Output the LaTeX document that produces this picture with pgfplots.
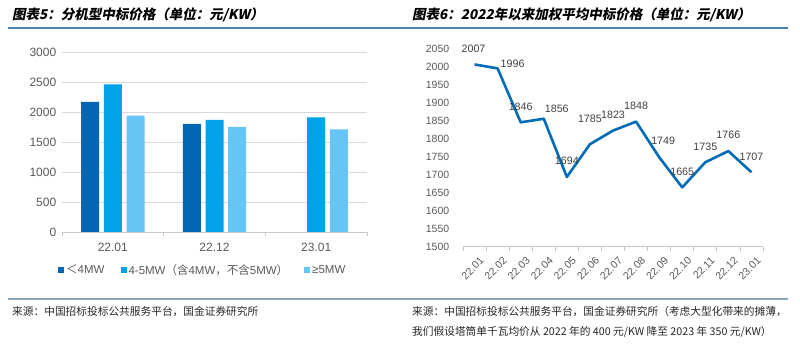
\documentclass[border=0pt]{standalone}
\usepackage{fontspec}
\setmainfont{Liberation Sans}
\newfontfamily\cjk{Noto Sans CJK SC}
\newfontfamily\cjkt{Noto Sans CJK SC}[FakeSlant=0.2]
\usepackage{pgfplots}
\pgfplotsset{compat=1.18}
\usepackage{pgfplotstable}

\definecolor{c1}{RGB}{0,102,179}
\definecolor{c2}{RGB}{0,162,232}
\definecolor{c3}{RGB}{102,197,245}
\definecolor{lc}{RGB}{0,108,182}
\definecolor{tickgray}{RGB}{89,89,89}
\definecolor{labgray}{RGB}{64,64,64}
\definecolor{gridgray}{RGB}{217,217,217}
\definecolor{axgray}{RGB}{200,200,200}
\definecolor{topline}{RGB}{70,130,170}
\definecolor{botline}{RGB}{140,165,190}

\pgfplotstableread{
x y
0 2170
1 1800
}\tA
\pgfplotstableread{
x y
0 2460
1 1870
2 1910
}\tB
\pgfplotstableread{
x y
0 1940
1 1750
2 1710
}\tC
\pgfplotstableread{
x y dx dy
0 2007 -1 16
1 1996 15 5
2 1846 0 16
3 1856 13 10
4 1694 0 16
5 1785 0 25
6 1823 0 16
7 1848 0 16
8 1749 4 16
9 1665 0 16
10 1735 0 15
11 1766 0 16
12 1707 0 15
}\tL

\begin{document}
\begin{tikzpicture}
\path[use as bounding box] (0,0) rectangle (800pt,345pt);

% titles and rules
\node[anchor=west, inner sep=0] at (12pt,330pt) {\cjkt\bfseries\fontsize{13.5}{16}\selectfont 图表5：分机型中标价格（单位：元/KW）};
\node[anchor=west, inner sep=0] at (412pt,330pt) {\cjkt\bfseries\fontsize{13.5}{16}\selectfont 图表6：2022年以来加权平均中标价格（单位：元/KW）};
\draw[topline, line width=1.3pt] (8pt,317pt) -- (788pt,317pt);
\draw[botline, line width=1.3pt] (8pt,46pt) -- (788pt,46pt);
\node[anchor=west, inner sep=0, text={rgb,255:red,38;green,38;blue,38}] at (12pt,33.5pt) {\cjk\fontsize{10.7}{13}\selectfont 来源：中国招标投标公共服务平台，国金证券研究所};
\node[anchor=west, inner sep=0, text={rgb,255:red,38;green,38;blue,38}] at (412pt,33.5pt) {\cjk\fontsize{10.7}{13}\selectfont 来源：中国招标投标公共服务平台，国金证券研究所（考虑大型化带来的摊薄，};
\node[anchor=west, inner sep=0, text={rgb,255:red,38;green,38;blue,38}] at (412pt,13.3pt) {\cjk\fontsize{10.7}{13}\selectfont 我们假设塔筒单千瓦均价从 2022 年的 400 元/KW 降至 2023 年 350 元/KW）};

% left chart
\begin{axis}[at={(62pt,113pt)}, anchor=south west, width=305pt, height=180pt, scale only axis,
  xmin=-0.5, xmax=2.5, ymin=0, ymax=3000,
  ybar=4.7pt, bar width=18pt,
  xtick={0,1,2}, xticklabels={22.01,22.12,23.01},
  ytick={0,500,...,3000},
  ymajorgrids, grid style={gridgray, line width=0.8pt},
  axis x line*=bottom, axis y line*=left,
  y axis line style={draw=none}, x axis line style={axgray, line width=0.8pt},
  ytick style={draw=none}, xtick style={draw=none},
  tick align=outside,
  extra x ticks={-0.5,0.5,1.5,2.5}, extra x tick labels={},
  extra x tick style={xtick style={draw=axgray, line width=0.8pt}, major tick length=4pt},
  yticklabel style={font=\fontsize{12}{14}\selectfont, text=tickgray, xshift=2pt},
  xticklabel style={font=\fontsize{12}{14}\selectfont, text=tickgray, yshift=-3pt},
  /pgf/number format/1000 sep={}, /pgf/number format/assume math mode=true,
  legend columns=3,
  legend style={draw=none, fill=none, at={(0,0)}, anchor=west, xshift=-7pt, yshift=-38pt,
    font=\fontsize{11.5}{14}\selectfont, text=tickgray,
    /tikz/every even column/.append style={column sep=14pt}},
  legend image code/.code={\fill[#1,/tikz/.cd,draw=none] (0pt,-3pt) rectangle (6pt,3pt);},
  clip=false,
]
\addplot[fill=c1, draw=none] table[x=x,y=y]{\tA};
\addplot[fill=c2, draw=none] table[x=x,y=y]{\tB};
\addplot[fill=c3, draw=none] table[x=x,y=y]{\tC};
\legend{{\cjk ＜}4MW, 4-5MW{\cjk （含}4MW{\cjk ，不含}5MW{\cjk ）}, ≥5MW}
\end{axis}

% right chart
\begin{axis}[at={(463pt,98.3pt)}, anchor=south west, width=300pt, height=197.7pt, scale only axis,
  xmin=-0.5, xmax=12.5, ymin=1500, ymax=2050,
  ytick={1500,1550,...,2050},
  xtick={0,...,12},
  xticklabels={22.01,22.02,22.03,22.04,22.05,22.06,22.07,22.08,22.09,22.10,22.11,22.12,23.01},
  axis x line*=bottom, axis y line*=left,
  y axis line style={draw=none}, x axis line style={axgray, line width=0.8pt},
  ytick style={draw=none}, xtick style={draw=none},
  tick align=outside,
  extra x ticks={-0.5,0.5,...,12.5}, extra x tick labels={},
  extra x tick style={xtick style={draw=axgray, line width=0.8pt}, major tick length=4pt},
  yticklabel style={font=\fontsize{10.5}{12}\selectfont, text=tickgray, xshift=-6pt},
  xticklabel style={font=\fontsize{10.5}{12}\selectfont, text=tickgray, rotate=45, anchor=east, yshift=-11pt, xshift=3pt},
  /pgf/number format/1000 sep={}, /pgf/number format/assume math mode=true,
  clip=false,
]
\addplot[lc, line width=2.6pt, line join=round, mark=none,
  nodes near coords, point meta=explicit symbolic,
  visualization depends on={\thisrow{dx} \as \dx},
  visualization depends on={\thisrow{dy} \as \dy},
  every node near coord/.append style={anchor=center, xshift=\dx pt, yshift=\dy pt,
    font=\fontsize{10.7}{12}\selectfont, text=labgray}]
  table[x=x,y=y,meta=y]{\tL};
\end{axis}
\end{tikzpicture}
\end{document}
